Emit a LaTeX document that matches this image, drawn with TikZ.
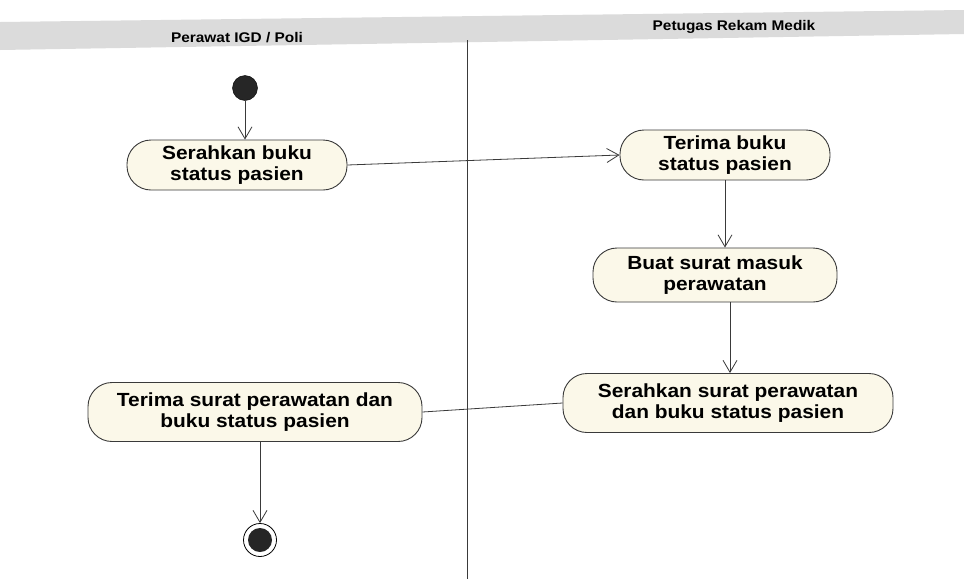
\documentclass[tikz,border=0pt]{standalone}
\usepackage{fontspec}
\setmainfont{Liberation Sans}
\newfontfamily\widesans[FakeStretch=1.1]{Liberation Sans}
\usetikzlibrary{arrows.meta}
\definecolor{actfill}{HTML}{FBF8E9}
\definecolor{inkline}{HTML}{3A3A3A}
\tikzset{
  activity/.style={draw=inkline, line width=0.9pt, fill=actfill, rounded corners=24pt,
    align=center, font=\widesans\fontsize{19}{21}\selectfont\bfseries, inner sep=0pt},
  flow/.style={draw=inkline, line width=0.8pt, -{Straight Barb[length=12pt,width=14pt,line width=0.8pt]}},
  plainflow/.style={draw=inkline, line width=0.8pt},
  lanehead/.style={font=\widesans\fontsize{14}{16}\selectfont\bfseries, inner sep=0pt}
}
\begin{document}
\begin{tikzpicture}[x=1pt, y=-1pt]
\useasboundingbox (0,0) rectangle (964,579);
\fill[white] (0,0) rectangle (964,579);
% swimlane header band
\fill[gray!28] (0,22) -- (964,10) -- (964,34) -- (0,50) -- cycle;
\node[lanehead] (laneA) at (237,38) {Perawat IGD / Poli};
\node[lanehead] (laneB) at (734,27) {Petugas Rekam Medik};
% lane divider
\draw[inkline, line width=0.9pt] (467,40) -- (467,579);
% start node
\node[circle, fill=black!85, draw=black, minimum size=25pt, inner sep=0pt] (start) at (245,88) {};
% activities
\node[activity, minimum width=220pt, minimum height=50pt] (a1) at (237,165) {Serahkan buku\\status pasien};
\node[activity, minimum width=210pt, minimum height=50pt] (a2) at (725,155) {Terima buku\\status pasien};
\node[activity, minimum width=244pt, minimum height=54pt] (a3) at (715,275) {Buat surat masuk\\perawatan};
\node[activity, minimum width=330pt, minimum height=59pt] (a4) at (728,403) {Serahkan surat perawatan\\dan buku status pasien};
\node[activity, minimum width=334pt, minimum height=59pt] (a5) at (255,412) {Terima surat perawatan dan\\buku status pasien};
% end node
\node[circle, draw=black, line width=0.8pt, minimum size=33pt, inner sep=0pt] (stop) at (260,540) {};
\node[circle, fill=black!85, minimum size=24pt, inner sep=0pt] (stopcore) at (stop.center) {};
% flows
\draw[flow] (start) -- (a1.north -| start);
\draw[flow] (a1.east) -- (a2.west);
\draw[flow] (a2.south) -- (a3.north -| a2.south);
\draw[flow] (a3.south -| 730,0) -- (a4.north -| 730,0);
\draw[plainflow] (a4.west) -- (a5.east);
\draw[flow] (a5.south -| stop) -- (stop.north);
\end{tikzpicture}
\end{document}
